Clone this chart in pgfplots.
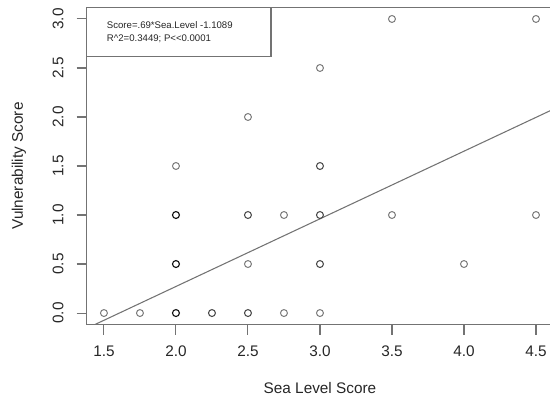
\documentclass[border=0pt]{standalone}
\usepackage{pgfplots}
\pgfplotsset{compat=1.18}
\usepackage{fontspec}
\setmainfont{Liberation Sans}
\definecolor{axisgray}{gray}{0.45}
\definecolor{ptdark}{gray}{0.08}
\definecolor{ptmed}{gray}{0.3}
\definecolor{ptlight}{gray}{0.48}
\definecolor{txt}{gray}{0.15}
\begin{document}
\begin{tikzpicture}
\begin{axis}[
  at={(65pt,60.15pt)}, anchor=south west,
  scale only axis, width=349.95pt, height=238.2pt,
  xmin=1.38, xmax=4.62, ymin=-0.12, ymax=3.12,
  axis line style={axisgray, line width=0.8pt},
  every tick/.style={axisgray, line width=0.8pt},
  tick align=outside, major tick length=7.5pt, tick pos=left,
  xtick={1.5,2,2.5,3,3.5,4,4.5},
  ytick={0,0.5,1,1.5,2,2.5,3},
  /pgf/number format/.cd, fixed, fixed zerofill, precision=1, assume math mode=true, /pgfplots/.cd,
  ticklabel style={font=\fontsize{11.5}{13}\selectfont, text=txt},
  xticklabel style={anchor=center, yshift=-14pt},
  yticklabel style={xshift=-12.5pt, rotate=90, anchor=center},
  typeset ticklabels with strut,
  xlabel={Sea Level Score}, ylabel={Vulnerability Score},
  label style={font=\fontsize{11.5}{13}\selectfont, text=txt},
  xlabel style={at={(axis description cs:0.5,-0.1994)}, anchor=center},
  ylabel style={at={(axis description cs:-0.1451,0.5)}, anchor=center},
]
% regression line: Score = .69*Sea.Level - 1.1089
\addplot[color=black!55, line width=0.8pt] coordinates {(1.4332,-0.12) (4.62,2.0789)};
% overlapping (darkest) points
\addplot[only marks, mark=o, mark size=2.6pt, mark options={ptdark, line width=0.85pt}] coordinates {
 (2.0,0) (2.0,0.5) (2.0,1.0)
};
% medium points
\addplot[only marks, mark=o, mark size=2.6pt, mark options={ptmed, line width=0.8pt}] coordinates {
 (2.25,0) (2.5,0) (2.5,1.0) (3.0,0.5) (3.0,1.0) (3.0,1.5)
};
% single points
\addplot[only marks, mark=o, mark size=2.6pt, mark options={ptlight, line width=0.75pt}] coordinates {
 (1.5,0) (1.75,0) (2.0,1.5) (2.5,0.5) (2.5,2.0) (2.75,0) (2.75,1.0)
 (3.0,0) (3.0,2.5) (3.5,1.0) (3.5,3.0) (4.0,0.5) (4.5,1.0) (4.5,3.0)
};
\draw[axisgray, line width=0.8pt, fill=white] (axis cs:1.38,2.615) rectangle (axis cs:2.660,3.12);
\node[anchor=west, inner sep=0pt, text=txt, font=\fontsize{7.2}{8.5}\selectfont] at (axis cs:1.519,2.939) {Score=.69*Sea.Level -1.1089};
\node[anchor=west, inner sep=0pt, text=txt, font=\fontsize{7.2}{8.5}\selectfont] at (axis cs:1.519,2.803) {R\^{}2=0.3449; P<\kern0pt<0.0001};
\end{axis}
\pgfresetboundingbox
\useasboundingbox (0,0) rectangle (412.5pt,303.75pt);
\end{tikzpicture}
\end{document}
